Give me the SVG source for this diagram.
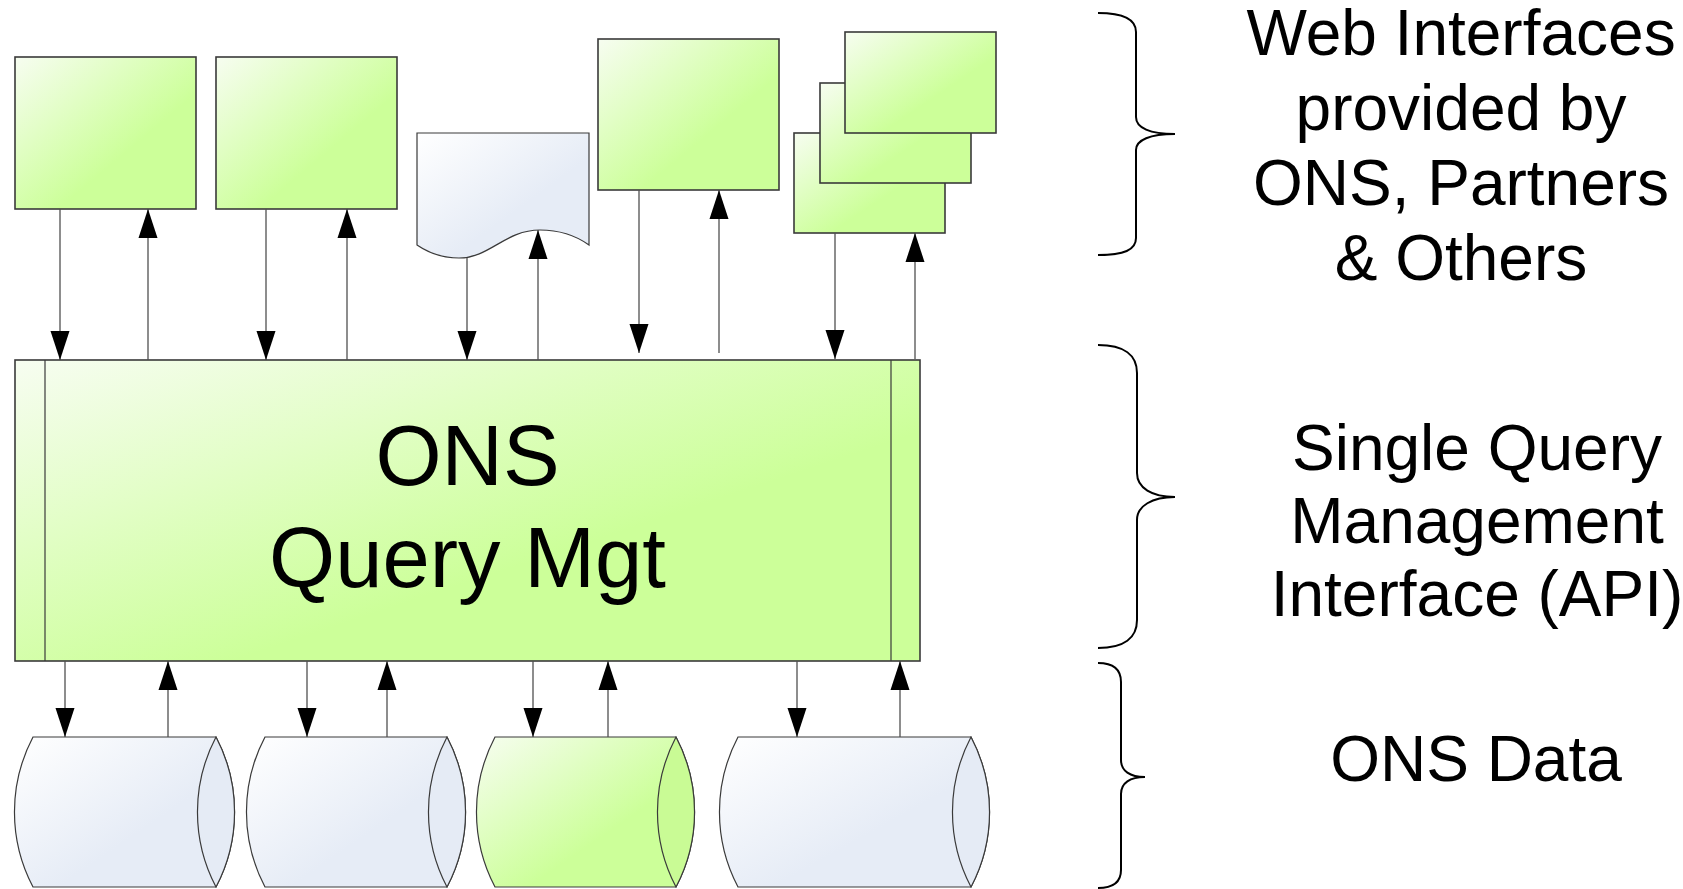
<svg xmlns="http://www.w3.org/2000/svg" width="1683" height="889" viewBox="0 0 1683 889">
<defs>
<linearGradient id="gGreen" x1="0" y1="0" x2="1" y2="1">
<stop offset="0" stop-color="#F7FDF1"/>
<stop offset="0.62" stop-color="#CCFF99"/>
<stop offset="1" stop-color="#CCFF99"/>
</linearGradient>
<linearGradient id="gBlue" x1="0" y1="0" x2="1" y2="1">
<stop offset="0" stop-color="#FFFFFF"/>
<stop offset="0.6" stop-color="#E6ECF6"/>
<stop offset="1" stop-color="#E6ECF6"/>
</linearGradient>
<marker id="arrEnd" markerUnits="userSpaceOnUse" markerWidth="29" markerHeight="20" viewBox="0 0 29 20" refX="29" refY="10" orient="auto">
<path d="M29,10 L0,0.5 L0,19.5 Z" fill="#000"/>
</marker>
</defs>
<style>
.box{fill:url(#gGreen);stroke:#3A3A3A;stroke-width:1.6}
.blue{fill:url(#gBlue);stroke:#3A3A3A;stroke-width:1.2}
.green{fill:url(#gGreen);stroke:#3A3A3A;stroke-width:1.2}
.endB{fill:#E5EBF5;stroke:#3A3A3A;stroke-width:1.2}
.endG{fill:#C9FB95;stroke:#3A3A3A;stroke-width:1.2}
.ln{stroke:#505050;stroke-width:1.3;fill:none;marker-end:url(#arrEnd)}
.brace{fill:none;stroke:#000;stroke-width:2}
text{font-family:"Liberation Sans",Arial,Helvetica,sans-serif;fill:#000;text-anchor:middle}
.big{font-size:85px}
.lbl{font-size:64px}
</style>

<g id="web1"><rect class="box" x="15" y="57" width="181" height="152"/></g>
<g id="web2"><rect class="box" x="216" y="57" width="181" height="152"/></g>
<g id="doc"><path class="blue" d="M417,133 H589 V245 Q568,230 540,230 C505,230 490,258 459,258 Q436,258 417,245 Z"/></g>
<g id="web3"><rect class="box" x="598" y="39" width="181" height="151"/></g>
<g id="stack">
<rect class="box" x="794" y="133" width="151" height="100"/>
<rect class="box" x="820" y="83" width="151" height="100"/>
<rect class="box" x="845" y="32" width="151" height="101"/>
</g>

<g id="main">
<rect class="box" x="15" y="360" width="905" height="301"/>
<line x1="45" y1="360" x2="45" y2="661" stroke="#3A3A3A" stroke-width="1.2"/>
<line x1="891" y1="360" x2="891" y2="661" stroke="#3A3A3A" stroke-width="1.2"/>
<text class="big" x="467.5" y="485">ONS</text>
<text class="big" x="467.5" y="587">Query Mgt</text>
</g>

<g id="db1">
<path class="blue" d="M33,737 H216 A161,161 0 0 1 216,887 H33 A161,161 0 0 1 33,737 Z"/>
<path class="endB" d="M216,737 A161,161 0 0 1 216,887 A161,161 0 0 1 216,737 Z"/>
</g>
<g id="db2">
<path class="blue" d="M265,737 H447 A161,161 0 0 1 447,887 H265 A161,161 0 0 1 265,737 Z"/>
<path class="endB" d="M447,737 A161,161 0 0 1 447,887 A161,161 0 0 1 447,737 Z"/>
</g>
<g id="db3">
<path class="green" d="M495,737 H676 A161,161 0 0 1 676,887 H495 A161,161 0 0 1 495,737 Z"/>
<path class="endG" d="M676,737 A161,161 0 0 1 676,887 A161,161 0 0 1 676,737 Z"/>
</g>
<g id="db4">
<path class="blue" d="M738,737 H971 A161,161 0 0 1 971,887 H738 A161,161 0 0 1 738,737 Z"/>
<path class="endB" d="M971,737 A161,161 0 0 1 971,887 A161,161 0 0 1 971,737 Z"/>
</g>

<g id="connectors">
<line class="ln" x1="60" y1="209" x2="60" y2="360"/>
<line class="ln" x1="148" y1="360" x2="148" y2="209"/>
<line class="ln" x1="266" y1="209" x2="266" y2="360"/>
<line class="ln" x1="347" y1="360" x2="347" y2="209"/>
<line class="ln" x1="467" y1="258" x2="467" y2="360"/>
<line class="ln" x1="538" y1="360" x2="538" y2="230"/>
<line class="ln" x1="639" y1="190" x2="639" y2="353"/>
<line class="ln" x1="719" y1="353" x2="719" y2="190"/>
<line class="ln" x1="835" y1="233" x2="835" y2="359"/>
<line class="ln" x1="915" y1="359" x2="915" y2="233"/>
<line class="ln" x1="65" y1="661" x2="65" y2="737"/>
<line class="ln" x1="168" y1="737" x2="168" y2="661"/>
<line class="ln" x1="307" y1="661" x2="307" y2="737"/>
<line class="ln" x1="387" y1="737" x2="387" y2="661"/>
<line class="ln" x1="533" y1="661" x2="533" y2="737"/>
<line class="ln" x1="608" y1="737" x2="608" y2="661"/>
<line class="ln" x1="797" y1="661" x2="797" y2="737"/>
<line class="ln" x1="900" y1="737" x2="900" y2="661"/>
</g>

<g id="brace1"><path class="brace" d="M1098,13 C1124,13 1136,20 1136,32 V117 C1136,128 1150,134 1175,134 C1150,134 1136,140 1136,150 V238 C1136,250 1124,255 1098,255"/></g>
<g id="brace2"><path class="brace" d="M1098,345 C1124,345 1137,355 1137,373 V473 C1137,488 1152,497 1175,497 C1152,497 1137,506 1137,520 V620 C1137,638 1124,648 1098,648"/></g>
<g id="brace3"><path class="brace" d="M1098,663 C1114,663 1121,670 1121,682 V760 C1121,771 1130,777 1145,777 C1130,777 1121,783 1121,794 V870 C1121,882 1114,888 1098,888"/></g>

<g id="label-web">
<text class="lbl" x="1461" y="55">Web Interfaces</text>
<text class="lbl" x="1461" y="130">provided by</text>
<text class="lbl" x="1461" y="205">ONS, Partners</text>
<text class="lbl" x="1461" y="280">&amp; Others</text>
</g>
<g id="label-api">
<text class="lbl" x="1477" y="470">Single Query</text>
<text class="lbl" x="1477" y="543">Management</text>
<text class="lbl" x="1477" y="616">Interface (API)</text>
</g>
<g id="label-data"><text class="lbl" x="1476" y="781">ONS Data</text></g>
</svg>
